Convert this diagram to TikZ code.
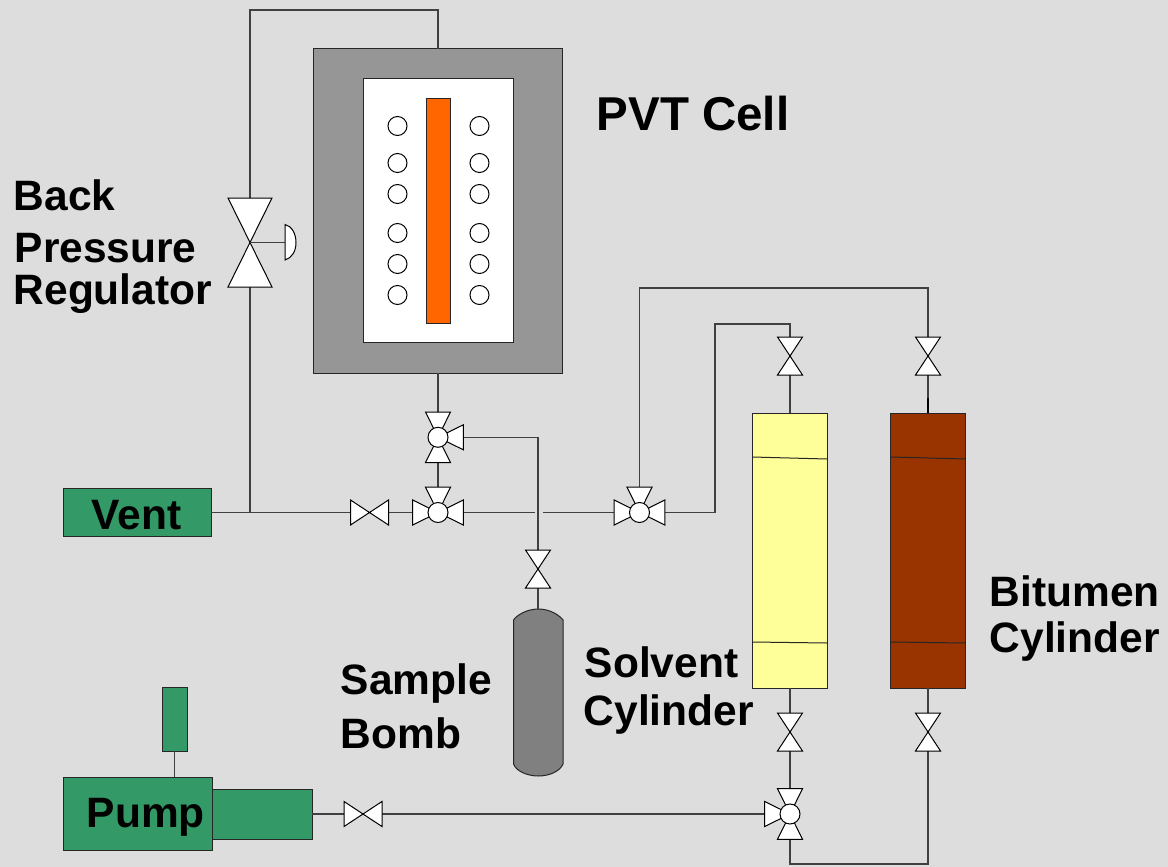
\documentclass[tikz,border=0pt]{standalone}
\usepackage{fontspec}
\setmainfont{Liberation Sans}
\definecolor{bg}{HTML}{DDDDDD}
\definecolor{cellgray}{HTML}{969696}
\definecolor{heater}{HTML}{FF6600}
\definecolor{solv}{HTML}{FFFF99}
\definecolor{bitu}{HTML}{993300}
\definecolor{bomb}{HTML}{808080}
\definecolor{eqgreen}{HTML}{339966}
\tikzset{
  box/.style={draw=black!85,line width=1pt,inner sep=0pt,outer sep=0pt},
  pipe/.style={draw=black!75,line width=1.1pt},
  vshape/.style={draw=black,fill=white,line width=1pt,line join=miter},
  lbl/.style={font=\bfseries\fontsize{42.5}{42.5}\selectfont,anchor=base west,inner sep=0pt,text=black},
  hole/.style={circle,draw=black,fill=white,line width=1pt,minimum size=19pt,inner sep=0pt},
  ball/.pic={\draw[vshape] (0,0) circle (10);},
  arm/.pic={\draw[vshape] (0,0) -- (-12.5,-25.3) -- (12.5,-25.3) -- cycle;},
  gate/.pic={\draw[vshape] (0,0) -- (-12.5,-19) -- (12.5,-19) -- cycle;},
  biggate/.pic={\draw[vshape] (0,0) -- (-22,-44.5) -- (22,-44.5) -- cycle;},
  gatev/.pic={\pic {gate}; \pic[rotate=180] {gate};},
  gateh/.pic={\pic[rotate=90] {gate}; \pic[rotate=270] {gate};},
  threetop/.pic={\pic {arm}; \pic[rotate=90] {arm}; \pic[rotate=270] {arm}; \pic {ball};},
  threeright/.pic={\pic {arm}; \pic[rotate=180] {arm}; \pic[rotate=270] {arm}; \pic {ball};},
  threeleft/.pic={\pic {arm}; \pic[rotate=180] {arm}; \pic[rotate=90] {arm}; \pic {ball};},
}
\begin{document}
\begin{tikzpicture}[x=1pt,y=-1pt]
\fill[bg] (0,0) rectangle (1168,867);
\useasboundingbox (0,0) rectangle (1168,867);
% equipment
\node[box,fill=cellgray,minimum width=249pt,minimum height=324pt] (pvt) at (437.5,211) {};
\node[box,fill=white,minimum width=150pt,minimum height=263pt] (cellin) at (438,210.5) {};
\node[box,fill=heater,minimum width=24pt,minimum height=224pt] (heat) at (438,211) {};
\foreach \n/\y in {a/126,b/163,c/194,d/233,e/264,f/295}{
  \node[hole] (hl\n) at (397.5,\y) {};
  \node[hole] (hr\n) at (479.5,\y) {};
}
\node[box,fill=solv,minimum width=75pt,minimum height=275pt] (solvent) at (789.5,550.5) {};
\node[box,fill=bitu,minimum width=75pt,minimum height=275pt] (bitumen) at (928,550.5) {};
\draw[box] (solvent.west |- 0,457) -- (solvent.east |- 0,459);
\draw[box] (solvent.west |- 0,642) -- (solvent.east |- 0,643);
\draw[box] (bitumen.west |- 0,457) -- (bitumen.east |- 0,459);
\draw[box] (bitumen.west |- 0,642) -- (bitumen.east |- 0,643);
\node[inner sep=0pt,outer sep=0pt,minimum width=49.5pt,minimum height=167pt] (sbomb) at (538.3,692.5) {};
\draw[box,fill=bomb] (sbomb.west |- 0,620) .. controls (516,616) and (526,609) .. (538.3,609)
  .. controls (551,609) and (560,616) .. (sbomb.east |- 0,620) -- (sbomb.east |- 0,764)
  .. controls (560,771) and (550,776) .. (538.3,776)
  .. controls (527,776) and (516,771) .. (sbomb.west |- 0,764) -- cycle;
\node[box,fill=eqgreen,minimum width=148pt,minimum height=48pt] (vent) at (137,512) {};
\node[box,fill=eqgreen,minimum width=149pt,minimum height=73pt] (pump) at (137.5,813.5) {};
\node[box,fill=eqgreen,minimum width=100pt,minimum height=50pt] (pumpcyl) at (262,814) {};
\node[box,fill=eqgreen,minimum width=25pt,minimum height=64pt] (pumptop) at (174.5,719) {};
% valve positions
\coordinate (bpr) at (250,242.5);
\coordinate (vvent) at (369.5,512.5);
\coordinate (vbomb) at (538,569);
\coordinate (vsoltop) at (790,356);
\coordinate (vbittop) at (928,356);
\coordinate (vsolbot) at (790,732);
\coordinate (vbitbot) at (928,732);
\coordinate (vpump) at (363,814);
\coordinate (ta) at (438,437.3);
\coordinate (tb) at (438,512.5);
\coordinate (tc) at (639.5,512.5);
\coordinate (td) at (790,814);
\coordinate (gapl) at (535,512.5);
\coordinate (gapr) at (543,512.5);
% pipes
\draw[pipe] (ta |- pvt.north) |- (bpr |- 0,10) -- (bpr) -- (bpr |- tb);
\draw[pipe] (vent.east |- tb) -- (vvent) -- (tb) -- (gapl);
\draw[pipe] (gapr) -- (tc);
\draw[pipe] (ta |- pvt.south) -- (ta) -- (tb);
\draw[pipe] (ta) -| (vbomb) -- (vbomb |- 0,609);
\draw[pipe] (tc) |- (vbittop |- 0,288) -- (vbittop) -- (bitumen.north -| vbittop);
\draw[line width=1.5pt,black] (vbittop |- 0,398) -- (bitumen.north -| vbittop);
\draw[pipe] (tc) -| (715,324) -| (vsoltop) -- (solvent.north -| vsoltop);
\draw[pipe] (solvent.south -| vsolbot) -- (vsolbot) -- (td);
\draw[pipe] (td) |- (vbitbot |- 0,864) -- (vbitbot) -- (bitumen.south -| vbitbot);
\draw[pipe] (pumpcyl.east) -- (vpump) -- (td);
\draw[pipe] (pump.north -| pumptop) -- (pumptop.south);
% valves
\pic at (bpr) {biggate};
\pic[rotate=180] at (bpr) {biggate};
\draw[pipe] (bpr) -- ++(35,0);
\draw[vshape] (285,224.5) .. controls (292,226) and (296,234) .. (296,242.5) .. controls (296,251) and (292,258) .. (285,260) -- cycle;
\pic at (vvent) {gateh};
\pic at (vbomb) {gatev};
\pic at (vsoltop) {gatev};
\pic at (vbittop) {gatev};
\pic at (vsolbot) {gatev};
\pic at (vbitbot) {gatev};
\pic at (vpump) {gateh};
\pic at (ta) {threeright};
\pic at (tb) {threetop};
\pic at (tc) {threetop};
\pic at (td) {threeleft};
% labels
\node[lbl,font=\bfseries\fontsize{47.5}{47.5}\selectfont] (tpvt) at (596.5,130) {PVT Cell};
\node[lbl] (tback) at (13.5,210) {Back};
\node[lbl] (tpres) at (14.5,262) {Pressure};
\node[lbl] (treg) at (13.5,304) {Regulator};
\node[lbl] (tvent) at (91.5,529) {Vent};
\node[lbl] (tpump) at (86.5,827) {Pump};
\node[lbl] (tsample) at (340.5,694) {Sample};
\node[lbl] (tbomb) at (340.5,748) {Bomb};
\node[lbl] (tsolv) at (584.5,677) {Solvent};
\node[lbl] (tcyl1) at (583.5,725) {Cylinder};
\node[lbl] (tbit) at (989.5,606) {Bitumen};
\node[lbl] (tcyl2) at (989.5,652) {Cylinder};
\end{tikzpicture}
\end{document}
